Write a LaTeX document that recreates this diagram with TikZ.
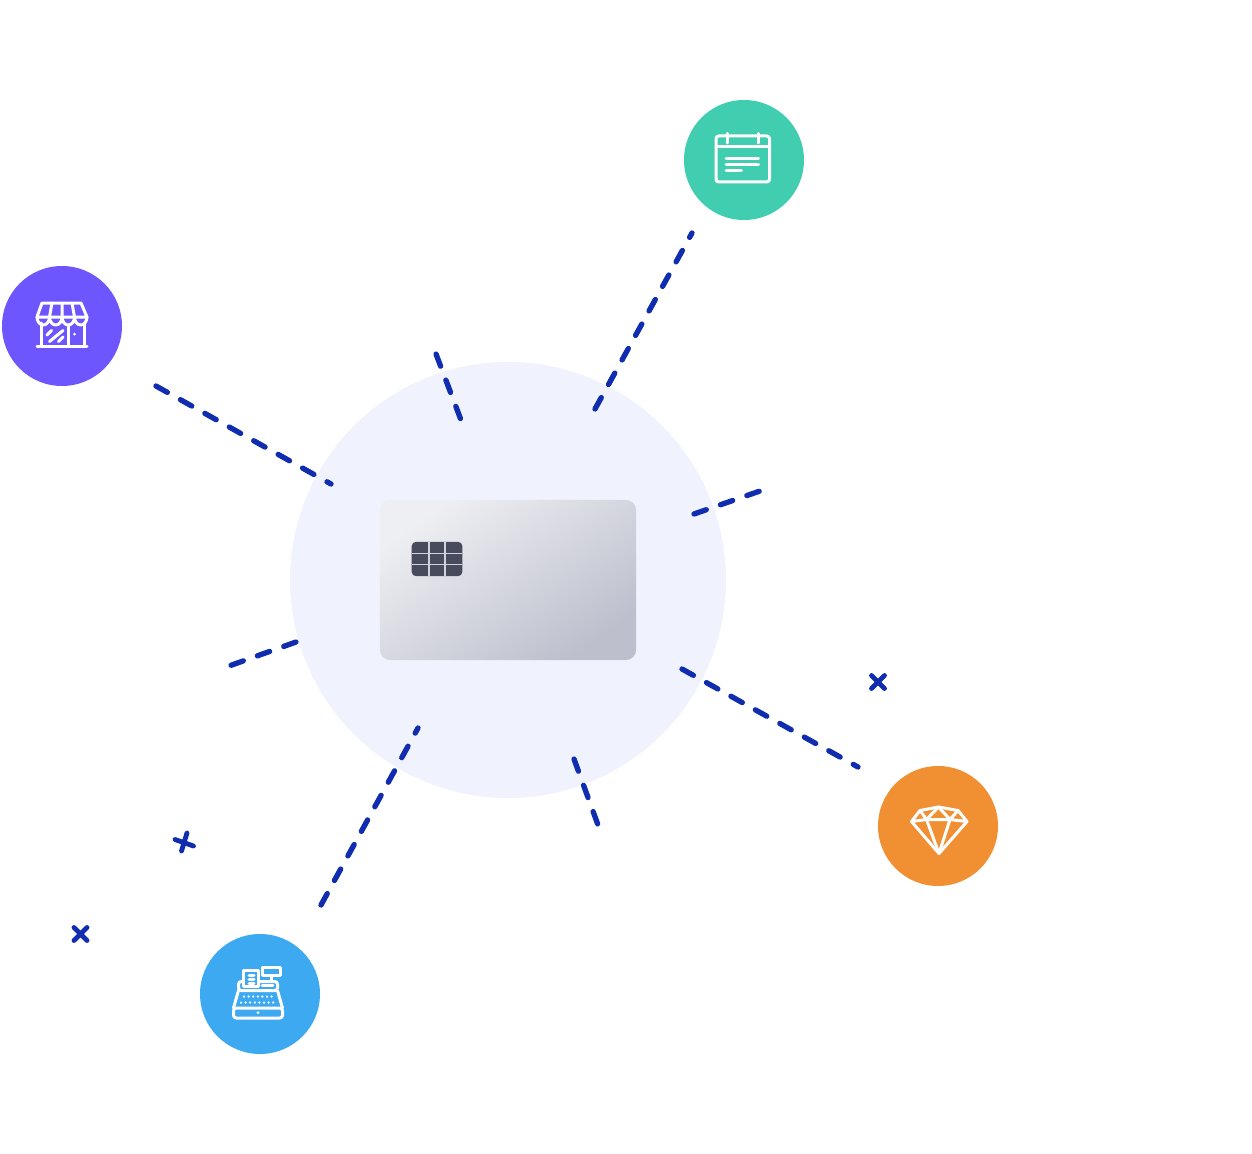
\documentclass[tikz,border=0pt]{standalone}
\definecolor{hubfill}{HTML}{F0F2FE}
\definecolor{spokeblue}{HTML}{0F2DAE}
\definecolor{calgreen}{HTML}{41CDB0}
\definecolor{shoppurple}{HTML}{6E56FF}
\definecolor{tillblue}{HTML}{3DA9F1}
\definecolor{gemorange}{HTML}{F19033}
\definecolor{chipdark}{HTML}{484A5E}
\definecolor{chipgap}{HTML}{D2D4DC}
\definecolor{cardlight}{HTML}{EEEFF2}
\definecolor{carddark}{HTML}{BDBFCD}
\tikzset{
  badge/.style={circle,minimum size=3.6cm,inner sep=0pt},
  spoke/.style={spokeblue,line width=0.16cm,line cap=round,dash pattern=on 0.39cm off 0.45cm},
  tick/.style={spokeblue,line width=0.145cm,line cap=round},
  icon/.style={white,line width=0.09cm,line join=round,line cap=round},
  dots/.style={white,line width=0.075cm,line cap=round,dash pattern=on 0pt off 0.138cm}
}
\begin{document}
\begin{tikzpicture}[x=0.03cm,y=-0.03cm]
  \useasboundingbox (0,0) rectangle (1252,1154);
  \node[circle,fill=hubfill,minimum size=13.08cm,inner sep=0pt] (hub) at (508,580) {};
  \node[rounded corners=0.3cm,minimum width=7.68cm,minimum height=4.8cm,inner sep=0pt,left color=cardlight,right color=carddark,shading angle=35] (card) at (508,580) {};
  \node[fill=chipdark,rounded corners=0.13cm,minimum width=1.52cm,minimum height=1.03cm,inner sep=0pt] (chip) at (437,559) {};
  \draw[chipgap,line width=0.05cm] (429,542) -- (429,576) (445,542) -- (445,576);
  \draw[chipgap,line width=0.05cm] (412,553.5) -- (462,553.5) (412,564.5) -- (462,564.5);
  % badges
  \node[badge,fill=calgreen] (calbadge) at (744,160) {};
  \node[badge,fill=shoppurple] (shopbadge) at (62,326) {};
  \node[badge,fill=tillblue] (tillbadge) at (260,994) {};
  \node[badge,fill=gemorange] (gembadge) at (938,826) {};
  % dashed spokes
  \foreach \n/\ax/\ay/\bx/\by in {1/156/386/331/484,2/595/409/692/233,3/436/354/461/420,4/694/514/760/491,%
    5/296/642/229/666,6/682/669/858/767,7/321/905/418/728,8/574/759/598/825} {
    \coordinate (from\n) at (\ax,\ay);
    \coordinate (to\n) at (\bx,\by);
    \draw[spoke] (from\n) -- (to\n);
  }
  % marks
  \draw[tick] (871.5,675.5) -- (884.5,688.5) (884.5,675.5) -- (871.5,688.5);
  \draw[tick] (74,927.5) -- (87,940.5) (87,927.5) -- (74,940.5);
  \draw[tick] (175,839.5) -- (193.5,846) (187,833) -- (181.5,851);
  % calendar
  \draw[icon,rounded corners=0.08cm] (716,136) rectangle (769.5,182);
  \draw[icon] (716,146.5) -- (769.5,146.5);
  \draw[icon] (727,133.5) -- (727,143) (758,133.5) -- (758,143);
  \draw[icon] (726,159) -- (758.5,159) (726,165) -- (758.5,165) (726,170.5) -- (741.5,170.5);
  % shop
  \draw[icon] (42,303) -- (81,303) -- (87,317) -- (37,317) -- cycle;
  \draw[icon] (52,303) -- (49.5,317) (62,303) -- (62,317) (72,303) -- (74.5,317);
  \draw[icon] (37,317) arc[start angle=180,end angle=360,x radius=6.25,y radius=-8]
    arc[start angle=180,end angle=360,x radius=6.25,y radius=-8]
    arc[start angle=180,end angle=360,x radius=6.25,y radius=-8]
    arc[start angle=180,end angle=360,x radius=6.25,y radius=-8];
  \draw[icon] (41,323) -- (41,346) (84,323) -- (84,346) (68,325) -- (68,346) (37,346.5) -- (87,346.5);
  \draw[icon] (47,335) -- (51.5,330.5) (49.5,341.5) -- (63,330.5) (58.5,341.5) -- (63,337);
  \fill[white] (74.5,334) circle[radius=1.5];
  % till
  \draw[icon] (262,967) rectangle (280.5,975.5);
  \draw[icon] (271,975.5) -- (271,981);
  \draw[icon,fill=tillblue] (243.5,970) rectangle (258.5,986.5);
  \draw[icon] (249,975) -- (254,975) (249,979) -- (254,979) (249,983) -- (254,983);
  \draw[icon,rounded corners=0.08cm] (243.5,981.5) -- (238.5,981.5) -- (238.5,990.5) -- (277.5,990.5) -- (277.5,981.5) -- (258.5,981.5);
  \draw[icon] (262,985.5) -- (273,985.5);
  \draw[icon] (238.5,990.5) -- (233.5,1008) (277.5,990.5) -- (282.5,1008);
  \draw[icon,rounded corners=0.08cm] (233.5,1008) rectangle (282.5,1018);
  \draw[dots] (244,996.5) -- (272.5,996.5) (241,1002.5) -- (276,1002.5);
  \fill[white] (258,1012.5) circle[radius=1.5];
  % gem
  \draw[icon] (911.5,821.5) -- (920,810.5) -- (938.5,807) -- (958,810.5) -- (967,821.5) -- (939,853.5) -- cycle;
  \draw[icon] (911.5,821.5) -- (926.5,819.5) -- (950,819.5) -- (967,821.5);
  \draw[icon] (920,810.5) -- (926.5,819.5) -- (938.5,807) -- (950,819.5) -- (958,810.5);
  \draw[icon] (926.5,819.5) -- (939,853.5) -- (950,819.5);
\end{tikzpicture}
\end{document}
